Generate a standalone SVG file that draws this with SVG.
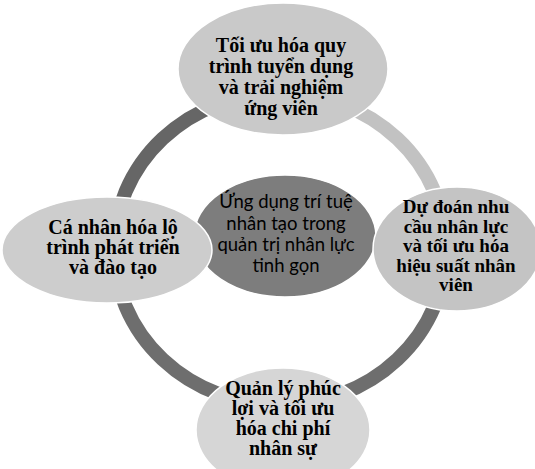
<svg xmlns="http://www.w3.org/2000/svg" width="535" height="469" viewBox="0 0 535 469">
<style>
.arc{fill:none;stroke-width:14}
.node{stroke:#ffffff;stroke-width:1.5}
.t{font-family:"Liberation Serif","Times New Roman",serif;font-weight:bold;font-size:20px;fill:#000;text-anchor:middle}
.r{font-size:19px}
.c{font-family:Lato,"Liberation Sans",sans-serif;font-size:18.5px;fill:#000;text-anchor:middle}
</style>
<rect width="535" height="469" fill="#ffffff"/>
<g id="connectors">
<path class="arc" stroke="#666666" d="M114,249 A166,156 0 0 1 280,93"/>
<path class="arc" stroke="#c2c2c2" d="M280,93 A166,156 0 0 1 446,249"/>
<path class="arc" stroke="#6e6e6e" d="M446,249 A166,156 0 0 1 280,405"/>
<path class="arc" stroke="#6e6e6e" d="M280,405 A166,156 0 0 1 114,249"/>
</g>
<g id="node-top">
<ellipse class="node" cx="283" cy="69" rx="105" ry="66" fill="#c9c9c9"/>
<text class="t"><tspan x="281" y="52">Tối ưu hóa quy</tspan><tspan x="281" y="73">trình tuyển dụng</tspan><tspan x="281" y="94">và trải nghiệm</tspan><tspan x="281" y="115">ứng viên</tspan></text>
</g>
<g id="node-bottom">
<ellipse class="node" cx="283" cy="430" rx="87" ry="62" fill="#d6d6d6"/>
<text class="t"><tspan x="283" y="395">Quản lý phúc</tspan><tspan x="283" y="415">lợi và tối ưu</tspan><tspan x="283" y="435">hóa chi phí</tspan><tspan x="283" y="455">nhân sự</tspan></text>
</g>
<g id="node-center">
<ellipse class="node" cx="285" cy="236" rx="91" ry="61" fill="#7d7d7d"/>
<text class="c"><tspan x="286" y="208">Ứng dụng trí tuệ</tspan><tspan x="286" y="229.5">nhân tạo trong</tspan><tspan x="286" y="251">quản trị nhân lực</tspan><tspan x="286" y="272">tinh gọn</tspan></text>
</g>
<g id="node-left">
<ellipse class="node" cx="107" cy="250" rx="105" ry="53" fill="#cdcdcd"/>
<text class="t"><tspan x="113" y="234">Cá nhân hóa lộ</tspan><tspan x="113" y="254">trình phát triển</tspan><tspan x="113" y="274">và đào tạo</tspan></text>
</g>
<g id="node-right">
<ellipse class="node" cx="457" cy="249" rx="84" ry="62" fill="#c4c4c4"/>
<text class="t r"><tspan x="456" y="213">Dự đoán nhu</tspan><tspan x="456" y="232.5">cầu nhân lực</tspan><tspan x="456" y="252">và tối ưu hóa</tspan><tspan x="456" y="271.5">hiệu suất nhân</tspan><tspan x="456" y="291">viên</tspan></text>
</g>
</svg>
